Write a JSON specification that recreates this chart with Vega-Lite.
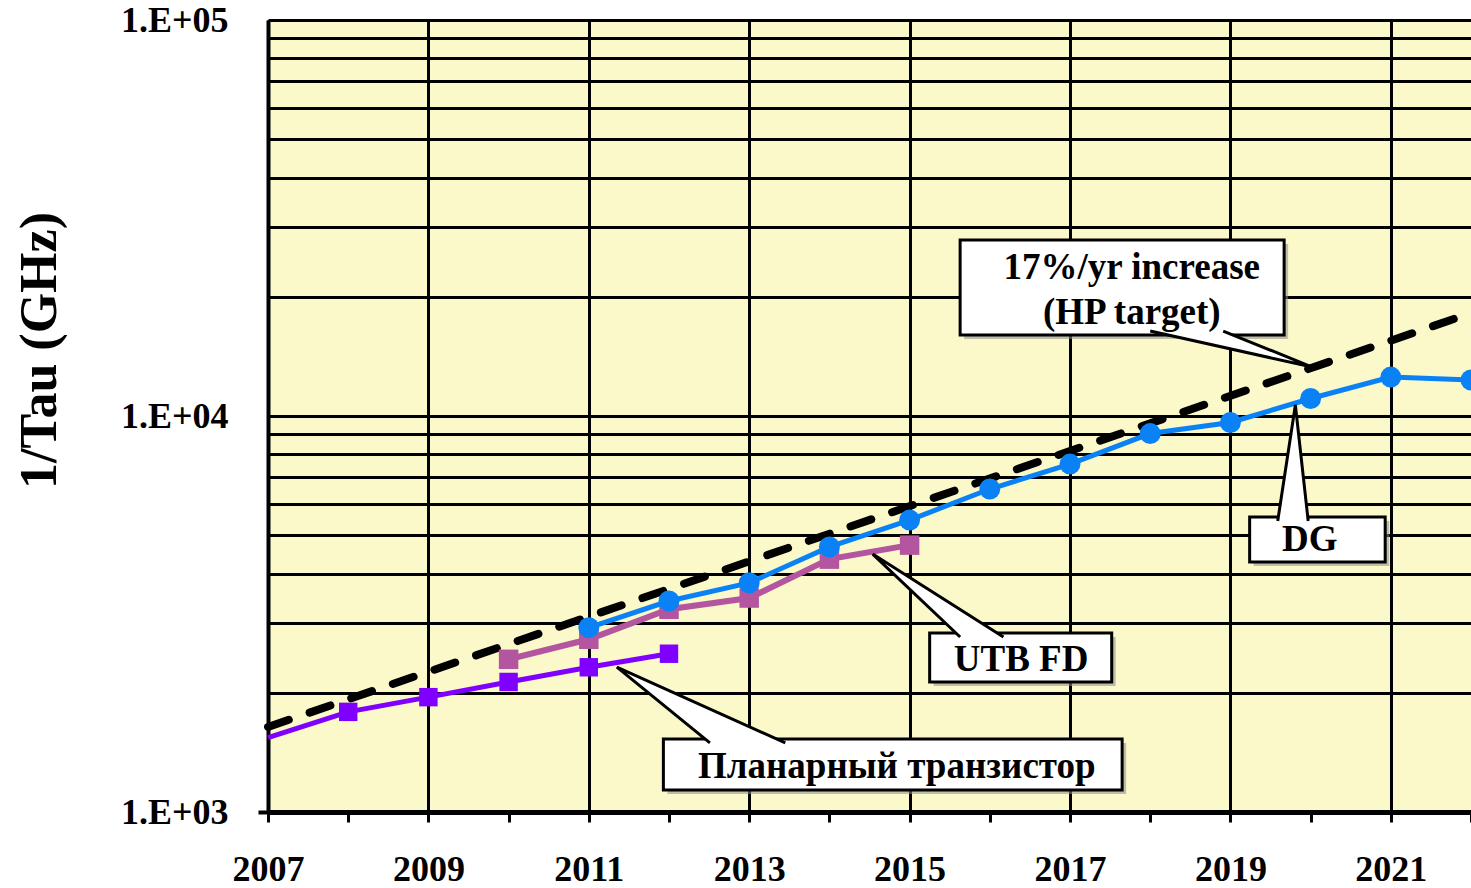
{
  "$schema": "https://vega.github.io/schema/vega-lite/v6.json",
  "width": 1203,
  "height": 792,
  "autosize": "none",
  "padding": {"left": 268, "top": 20, "right": 0, "bottom": 76},
  "background": "#ffffff",
  "config": {
    "view": {"fill": "#FBF9C9", "stroke": null},
    "font": "Liberation Serif"
  },
  "datasets": {
    "trend": [
      {"year": 2007, "ghz": 1640},
      {"year": 2022, "ghz": 18200}
    ],
    "series": [
      {"series": "Planar", "year": 2007, "ghz": 1540},
      {"series": "Planar", "year": 2008, "ghz": 1790},
      {"series": "Planar", "year": 2009, "ghz": 1950},
      {"series": "Planar", "year": 2010, "ghz": 2130},
      {"series": "Planar", "year": 2011, "ghz": 2320},
      {"series": "Planar", "year": 2012, "ghz": 2510},
      {"series": "UTB FD", "year": 2010, "ghz": 2430},
      {"series": "UTB FD", "year": 2011, "ghz": 2730},
      {"series": "UTB FD", "year": 2012, "ghz": 3250},
      {"series": "UTB FD", "year": 2013, "ghz": 3470},
      {"series": "UTB FD", "year": 2014, "ghz": 4350},
      {"series": "UTB FD", "year": 2015, "ghz": 4720},
      {"series": "DG", "year": 2011, "ghz": 2920},
      {"series": "DG", "year": 2012, "ghz": 3410},
      {"series": "DG", "year": 2013, "ghz": 3790},
      {"series": "DG", "year": 2014, "ghz": 4670},
      {"series": "DG", "year": 2015, "ghz": 5460},
      {"series": "DG", "year": 2016, "ghz": 6540},
      {"series": "DG", "year": 2017, "ghz": 7560},
      {"series": "DG", "year": 2018, "ghz": 9030},
      {"series": "DG", "year": 2019, "ghz": 9630},
      {"series": "DG", "year": 2020, "ghz": 11070},
      {"series": "DG", "year": 2021, "ghz": 12540},
      {"series": "DG", "year": 2022, "ghz": 12330}
    ],
    "boxes": [
      {"id": "hp", "year": 2015.63, "year2": 2019.67, "ghz": 27820, "ghz2": 16013},
      {"id": "dg", "year": 2019.24, "year2": 2020.93, "ghz": 5559, "ghz2": 4279},
      {"id": "utb", "year": 2015.25, "year2": 2017.52, "ghz": 2832, "ghz2": 2130},
      {"id": "planar", "year": 2011.93, "year2": 2017.65, "ghz": 1528, "ghz2": 1137}
    ],
    "pointers": [
      {"id": "hp", "i": 0, "year": 2018.0, "ghz": 16390},
      {"id": "hp", "i": 1, "year": 2020.02, "ghz": 13290},
      {"id": "hp", "i": 2, "year": 2018.91, "ghz": 16390},
      {"id": "dg", "i": 0, "year": 2019.59, "ghz": 5430},
      {"id": "dg", "i": 1, "year": 2019.81, "ghz": 10660},
      {"id": "dg", "i": 2, "year": 2019.97, "ghz": 5430},
      {"id": "utb", "i": 0, "year": 2015.63, "ghz": 2766},
      {"id": "utb", "i": 1, "year": 2014.54, "ghz": 4480},
      {"id": "utb", "i": 2, "year": 2016.17, "ghz": 2766},
      {"id": "planar", "i": 0, "year": 2012.51, "ghz": 1494},
      {"id": "planar", "i": 1, "year": 2011.35, "ghz": 2323},
      {"id": "planar", "i": 2, "year": 2013.45, "ghz": 1494}
    ],
    "labels": [
      {"text": "17%/yr increase", "year": 2017.77, "ghz": 23640},
      {"text": "(HP target)", "year": 2017.77, "ghz": 18200},
      {"text": "DG", "year": 2019.99, "ghz": 4863},
      {"text": "UTB FD", "year": 2016.39, "ghz": 2420},
      {"text": "Планарный транзистор", "year": 2014.84, "ghz": 1299}
    ]
  },
  "encoding": {
    "x": {
      "field": "year",
      "type": "quantitative",
      "scale": {"domain": [2007, 2022], "nice": false, "zero": false},
      "axis": {
        "values": [2007, 2008, 2009, 2010, 2011, 2012, 2013, 2014, 2015, 2016, 2017, 2018, 2019, 2020, 2021, 2022],
        "labelExpr": "datum.value % 2 == 1 ? '' + datum.value : ''",
        "labelFont": "Liberation Serif",
        "labelFontWeight": "bold",
        "labelFontSize": 36,
        "labelColor": "black",
        "labelPadding": 30,
        "labelDx": 3,
        "labelFlush": false,
        "labelOverlap": false,
        "tickSize": 10,
        "tickWidth": 3,
        "tickColor": "black",
        "domainColor": "black",
        "domainWidth": 5,
        "grid": true,
        "gridColor": "black",
        "gridWidth": 3,
        "gridOpacity": {"condition": {"test": "datum.value % 2 == 1", "value": 1}, "value": 0},
        "title": null
      }
    },
    "y": {
      "field": "ghz",
      "type": "quantitative",
      "scale": {"type": "log", "domain": [1000, 100000], "nice": false},
      "axis": {
        "values": [1000, 2000, 3000, 4000, 5000, 6000, 7000, 8000, 9000, 10000, 20000, 30000, 40000, 50000, 60000, 70000, 80000, 90000, 100000],
        "labelExpr": "datum.value == 1000 ? '1.E+03' : datum.value == 10000 ? '1.E+04' : datum.value == 100000 ? '1.E+05' : ''",
        "labelFont": "Liberation Serif",
        "labelFontWeight": "bold",
        "labelFontSize": 36,
        "labelColor": "black",
        "labelPadding": 30,
        "labelOverlap": false,
        "labelFlush": false,
        "tickSize": 10,
        "tickWidth": 4,
        "tickColor": {"condition": {"test": "datum.value == 1000", "value": "black"}, "value": "transparent"},
        "domainColor": "black",
        "domainWidth": 4,
        "grid": true,
        "gridColor": "black",
        "gridWidth": 3,
        "title": "1/Tau (GHz)",
        "titleFont": "Liberation Serif",
        "titleFontWeight": "bold",
        "titleFontSize": 52,
        "titleColor": "black",
        "titlePadding": 54,
        "titleY": 330
      }
    }
  },
  "layer": [
    {
      "data": {"name": "trend"},
      "mark": {"type": "line", "color": "black", "strokeWidth": 8, "strokeDash": [22, 22], "strokeCap": "round"}
    },
    {
      "data": {"name": "series"},
      "transform": [{"filter": "datum.series == 'UTB FD'"}],
      "mark": {"type": "line", "color": "#B4559F", "strokeWidth": 6}
    },
    {
      "data": {"name": "series"},
      "transform": [{"filter": "datum.series == 'UTB FD'"}],
      "mark": {"type": "point", "shape": "square", "filled": true, "opacity": 1, "color": "#B4559F", "size": 380}
    },
    {
      "data": {"name": "series"},
      "transform": [{"filter": "datum.series == 'DG'"}],
      "mark": {"type": "line", "color": "#0A82F5", "strokeWidth": 5}
    },
    {
      "data": {"name": "series"},
      "transform": [{"filter": "datum.series == 'DG'"}],
      "mark": {"type": "point", "shape": "circle", "filled": true, "opacity": 1, "color": "#0A82F5", "size": 440}
    },
    {
      "data": {"name": "series"},
      "transform": [{"filter": "datum.series == 'Planar'"}],
      "mark": {"type": "line", "color": "#8000FF", "strokeWidth": 5}
    },
    {
      "data": {"name": "series"},
      "transform": [{"filter": "datum.series == 'Planar' && datum.year > 2007"}],
      "mark": {"type": "point", "shape": "square", "filled": true, "opacity": 1, "color": "#8000FF", "size": 340}
    },
    {
      "data": {"name": "boxes"},
      "mark": {"type": "rect", "fill": "#8c8c8c", "opacity": 0.55, "xOffset": 4, "x2Offset": 4, "yOffset": 4, "y2Offset": 4},
      "encoding": {"x2": {"field": "year2"}, "y2": {"field": "ghz2"}}
    },
    {
      "data": {"name": "boxes"},
      "mark": {"type": "rect", "fill": "white", "stroke": "black", "strokeWidth": 3},
      "encoding": {"x2": {"field": "year2"}, "y2": {"field": "ghz2"}}
    },
    {
      "data": {"name": "pointers"},
      "mark": {"type": "line", "fill": "white", "stroke": "black", "strokeWidth": 3, "strokeJoin": "miter"},
      "encoding": {
        "detail": {"field": "id"},
        "order": {"field": "i", "type": "quantitative"}
      }
    },
    {
      "data": {"name": "labels"},
      "mark": {"type": "text", "font": "Liberation Serif", "fontWeight": "bold", "fontSize": 37, "color": "black", "align": "center", "baseline": "middle"},
      "encoding": {"text": {"field": "text"}}
    }
  ]
}
